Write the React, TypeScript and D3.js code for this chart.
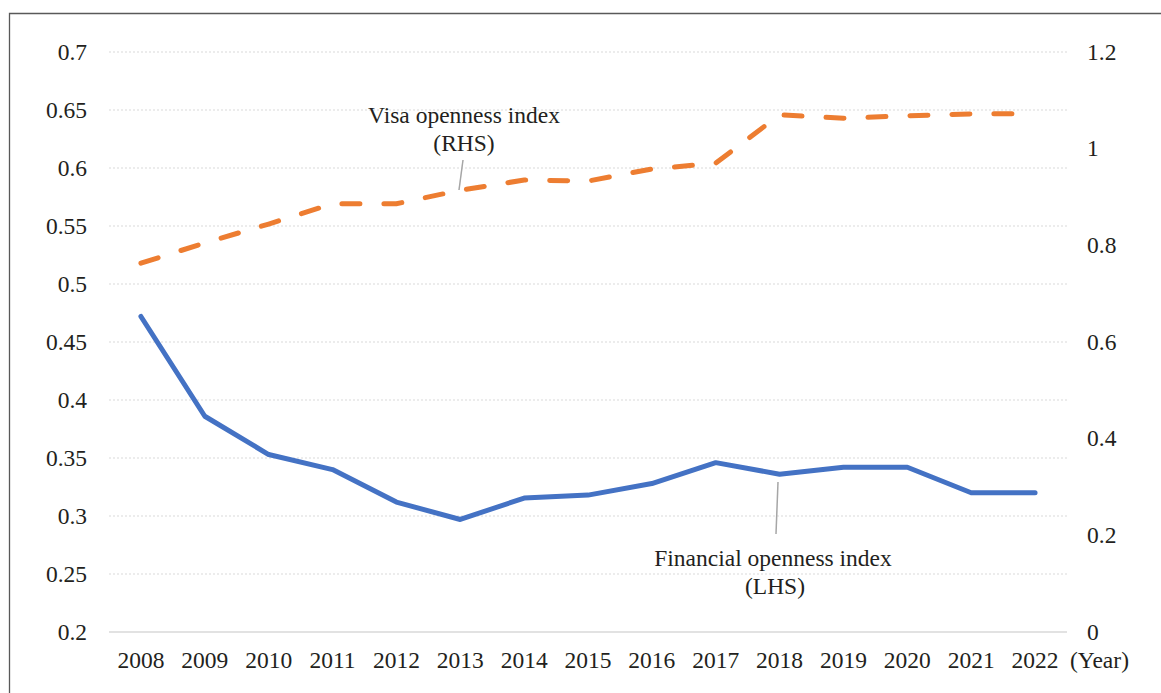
import React from "react";
import * as d3 from "d3";

const years = ["2008","2009","2010","2011","2012","2013","2014","2015","2016","2017","2018","2019","2020","2021","2022"];
const financial = [0.472,0.386,0.353,0.340,0.312,0.297,0.3155,0.318,0.328,0.346,0.336,0.342,0.342,0.320,0.320];
const visa = [0.763,0.805,0.844,0.886,0.886,0.914,0.935,0.933,0.958,0.970,1.070,1.063,1.068,1.072,1.072];
const leftTicks = [0.2,0.25,0.3,0.35,0.4,0.45,0.5,0.55,0.6,0.65,0.7];
const rightTicks = [0,0.2,0.4,0.6,0.8,1,1.2];

export default function App() {
  const W = 1161, H = 693;
  const left = 109, right = 1067, top = 52, bottom = 632;
  const x = d3.scaleBand<string>().domain(years).range([left, right]);
  const yL = d3.scaleLinear().domain([0.2, 0.7]).range([bottom, top]);
  const yR = d3.scaleLinear().domain([0, 1.2]).range([bottom, top]);
  const cx = (d: string) => (x(d) as number) + x.bandwidth() / 2;
  const lineL = d3.line<number>().x((_, i) => cx(years[i])).y(d => yL(d));
  const lineR = d3.line<number>().x((_, i) => cx(years[i])).y(d => yR(d));
  const font = "'Liberation Serif', 'Times New Roman', serif";
  const fs = 23.5;
  const tc = "#231f20";
  return (
    <svg width={W} height={H} style={{ position: "absolute", left: 0, top: 0 }} fontFamily={font}>
      <rect x={0} y={0} width={W} height={H} fill="#fff" />
      <path d={`M9.5,${H} V13.5 H${W}`} fill="none" stroke="#595959" strokeWidth={1.3} />
      {leftTicks.map((t, i) => (
        <line key={"g" + i} x1={left} x2={right} y1={yL(t)} y2={yL(t)}
          stroke="#d9d9d9" strokeWidth={i === 0 ? 1.5 : 1}
          strokeDasharray={i === 0 ? undefined : "2,2"} />
      ))}
      {leftTicks.map((t, i) => (
        <text key={"l" + i} x={87} y={yL(t)} dy="0.33em" textAnchor="end" fontSize={fs} fill={tc}>
          {String(t)}
        </text>
      ))}
      {rightTicks.map((t, i) => (
        <text key={"r" + i} x={1087} y={yR(t)} dy="0.33em" textAnchor="start" fontSize={fs} fill={tc}>
          {String(t)}
        </text>
      ))}
      {years.map(yr => (
        <text key={yr} x={cx(yr)} y={668} textAnchor="middle" fontSize={fs} fill={tc}>{yr}</text>
      ))}
      <text x={1070} y={668} fontSize={fs} fill={tc}>(Year)</text>
      <path d={lineL(financial) || ""} fill="none" stroke="#4472C4" strokeWidth={5} strokeLinejoin="round" strokeLinecap="round" />
      <path d={lineR(visa) || ""} fill="none" stroke="#ED7D31" strokeWidth={5} strokeLinecap="round" strokeDasharray="18,24" />
      <line x1={463} y1={160} x2={459} y2={190} stroke="#a6a6a6" strokeWidth={1.5} />
      <text x={464} y={123} textAnchor="middle" fontSize={fs} fill={tc}>Visa openness index</text>
      <text x={464} y={151} textAnchor="middle" fontSize={fs} fill={tc}>(RHS)</text>
      <line x1={778} y1={482} x2={776} y2={534} stroke="#a6a6a6" strokeWidth={1.5} />
      <text x={773} y={566} textAnchor="middle" fontSize={fs} fill={tc}>Financial openness index</text>
      <text x={775} y={594} textAnchor="middle" fontSize={fs} fill={tc}>(LHS)</text>
    </svg>
  );
}
